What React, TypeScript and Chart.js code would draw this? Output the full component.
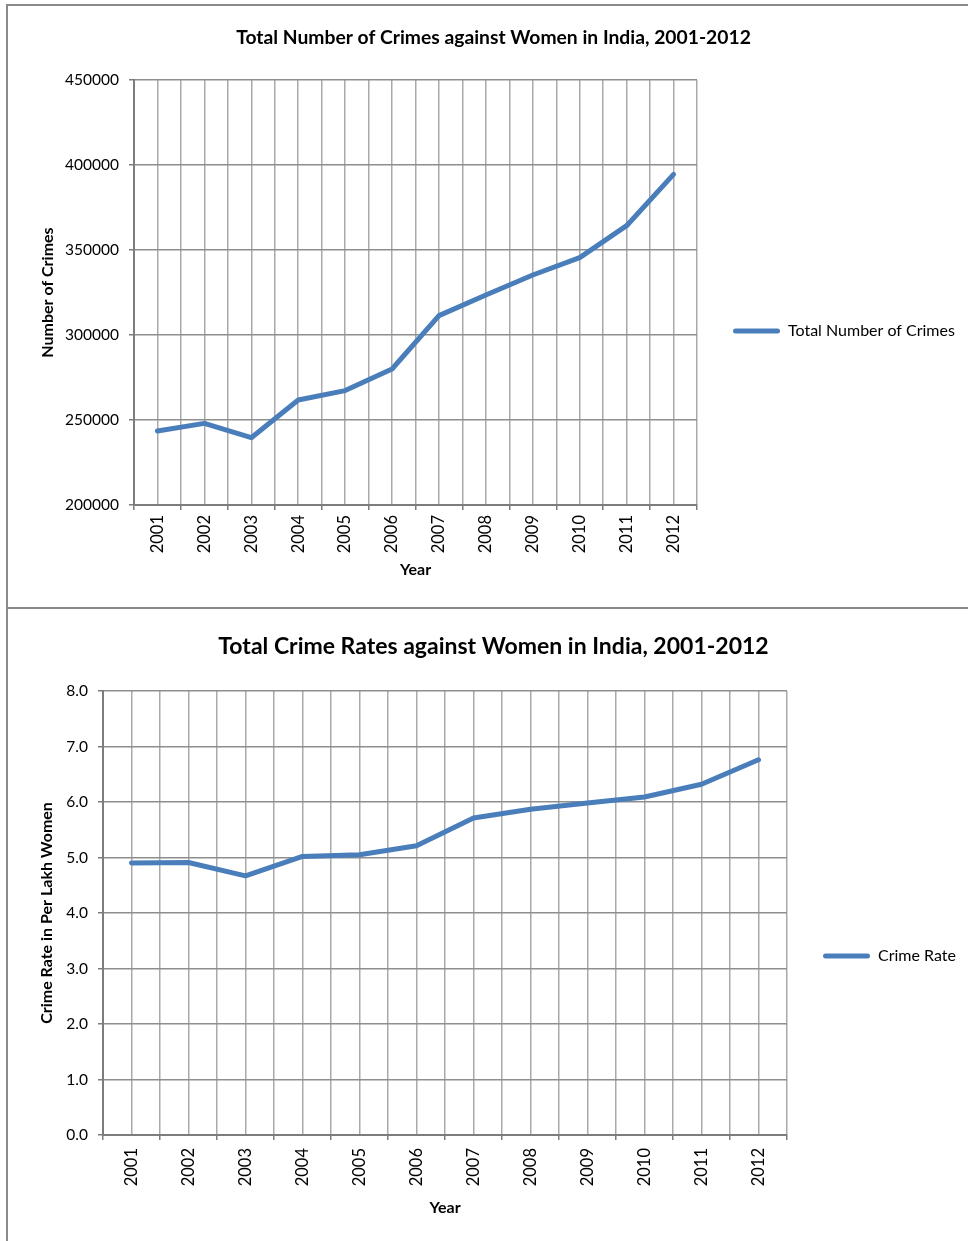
import React, { useEffect, useRef } from "react";
import { Chart, registerables } from "chart.js";

Chart.register(...registerables);

// ---------- data ----------
const years = ["2001", "2002", "2003", "2004", "2005", "2006", "2007", "2008", "2009", "2010", "2011", "2012"];
const totalCrimes = [243500, 248000, 239600, 261800, 267300, 280000, 311400, 323500, 335300, 345500, 364300, 394500];
const crimeRates = [4.9, 4.91, 4.67, 5.02, 5.05, 5.21, 5.71, 5.87, 5.98, 6.09, 6.32, 6.76];
const crimeTicks = [200000, 250000, 300000, 350000, 400000, 450000];
const rateTicks = [0, 1, 2, 3, 4, 5, 6, 7, 8];

// ---------- styling / layout ----------
const FONT = "Lato, 'Open Sans', sans-serif";
const LINE = "#4a7ebb";
const Y_LABEL_SIZE = 15.5;
const X_LABEL_SIZE = 16.5;
const LEGEND_SIZE = 16;
const AXIS_TITLE_SIZE = 16;
const LEGEND_BOX_W = 47;
const LEGEND_PAD = 36;
const V_GRID = "#a9a9a9";
const H_GRID = "#8e8e8e";
const AXIS = "#7d7d7d";

type Spec = {
  title: string;
  titleSize: number;
  yTitle: string;
  seriesName: string;
  labels: string[];
  values: number[];
  yTicks: number[];
  decimals: number;
  canvas: { x: number; y: number; w: number; h: number };
  plot: { left: number; right: number; top: number; bottom: number };
  titleCx: number;
  titleCy: number;
  yTitleCx: number;
  xTitleCy: number;
  legendCy: number;
  xTickPad: number;
};

function LineChart({ spec }: { spec: Spec }) {
  const ref = useRef<HTMLCanvasElement>(null);
  useEffect(() => {
    const canvas = ref.current!;
    const ctx = canvas.getContext("2d")!;
    ctx.font = `${LEGEND_SIZE}px ${FONT}`;
    const legendTextW = ctx.measureText(spec.seriesName).width;
    const itemW = LEGEND_BOX_W + LEGEND_SIZE / 2 + legendTextW;
    const cx = spec.canvas.x;
    const cy = spec.canvas.y;
    const plotL = spec.plot.left - cx;
    const plotR = spec.plot.right - cx;
    const plotT = spec.plot.top - cy;
    const plotB = spec.plot.bottom - cy;
    const Rp = plotR + LEGEND_PAD + itemW + 10;
    const padR = spec.canvas.w - Rp;
    const Lp = 2 * (spec.titleCx - cx) - Rp;
    const axLh = AXIS_TITLE_SIZE * 1.2;
    const yTitlePadTop = spec.yTitleCx - cx - Lp - axLh / 2;
    const yAxisW = plotL - Lp;
    const tLh = spec.titleSize * 1.2;
    const titlePadTop = spec.titleCy - cy - tLh / 2;
    const titlePadBottom = plotT - titlePadTop - tLh;
    const xAxisH = spec.xTitleCy - cy + axLh / 2 + 4 - plotB;
    const padB = spec.canvas.h - plotB - xAxisH;
    const legendBottom = spec.canvas.h - padB;
    const legendTitleH = 2 * (spec.legendCy - cy) - legendBottom;

    const chart = new Chart(canvas, {
      type: "line",
      data: {
        labels: spec.labels,
        datasets: [
          {
            label: spec.seriesName,
            data: spec.values,
            borderColor: LINE,
            backgroundColor: LINE,
            borderWidth: 5,
            pointRadius: 0,
            pointHoverRadius: 0,
            tension: 0,
            fill: false,
            borderCapStyle: "round",
            borderJoinStyle: "round",
            xAxisID: "x",
            yAxisID: "y",
          },
        ],
      },
      options: {
        responsive: false,
        animation: false,
        events: [],
        layout: { padding: { left: Lp, right: padR, top: 0, bottom: padB } },
        plugins: {
          tooltip: { enabled: false },
          title: {
            display: true,
            text: spec.title,
            color: "#000",
            font: { family: FONT, size: spec.titleSize, weight: "bold", lineHeight: 1.2 },
            padding: { top: titlePadTop, bottom: titlePadBottom },
          },
          legend: {
            display: true,
            position: "right",
            maxWidth: 600,
            title: {
              display: true,
              text: " ",
              font: { family: FONT, size: 10, lineHeight: 1.2 },
              padding: { top: 0, bottom: Math.max(0, legendTitleH - 12) },
            },
            labels: {
              boxWidth: LEGEND_BOX_W,
              boxHeight: 5,
              padding: LEGEND_PAD,
              color: "#000",
              font: { family: FONT, size: LEGEND_SIZE },
              useBorderRadius: true,
              borderRadius: 2.5,
              generateLabels: (c: any) =>
                (Chart.defaults.plugins.legend.labels.generateLabels as any)(c).map((l: any) => ({
                  ...l,
                  fillStyle: LINE,
                  strokeStyle: LINE,
                  lineWidth: 0,
                  borderRadius: 2.5,
                })),
            },
          },
        },
        scales: {
          x: {
            type: "category",
            offset: true,
            position: "bottom",
            grid: { offset: true, color: V_GRID, lineWidth: 1.5, tickLength: 5, tickColor: AXIS },
            border: { display: true, color: AXIS, width: 2 },
            ticks: {
              autoSkip: false,
              minRotation: 90,
              maxRotation: 90,
              padding: spec.xTickPad,
              color: "#000",
              font: { family: FONT, size: X_LABEL_SIZE },
            },
            title: {
              display: true,
              text: "Year",
              color: "#000",
              font: { family: FONT, size: AXIS_TITLE_SIZE, weight: "bold", lineHeight: 1.2 },
              padding: { top: 4, bottom: 0 },
            },
            afterFit: (s: any) => {
              s.height = xAxisH;
            },
          },
          x2: {
            type: "category",
            offset: true,
            position: "bottom",
            grid: { offset: false, color: V_GRID, lineWidth: 1.5, drawTicks: false },
            border: { display: false },
            ticks: { display: false },
          },
          y: {
            type: "linear",
            position: "left",
            min: spec.yTicks[0],
            max: spec.yTicks[spec.yTicks.length - 1],
            afterBuildTicks: (s: any) => {
              s.ticks = spec.yTicks.map((v) => ({ value: v }));
            },
            grid: { color: H_GRID, lineWidth: 1.5, tickLength: 5, tickColor: AXIS },
            border: { display: true, color: AXIS, width: 2 },
            ticks: {
              padding: 10,
              color: "#000",
              font: { family: FONT, size: Y_LABEL_SIZE },
              callback: (v: any) => (spec.decimals ? Number(v).toFixed(spec.decimals) : String(v)),
            },
            title: {
              display: true,
              text: spec.yTitle,
              color: "#000",
              font: { family: FONT, size: AXIS_TITLE_SIZE, weight: "bold", lineHeight: 1.2 },
              padding: { top: yTitlePadTop, bottom: 0 },
            },
            afterFit: (s: any) => {
              s.width = yAxisW;
            },
          },
        },
      } as any,
    });
    return () => chart.destroy();
  }, [spec]);
  return (
    <canvas
      ref={ref}
      width={spec.canvas.w}
      height={spec.canvas.h}
      style={{ position: "absolute", left: spec.canvas.x, top: spec.canvas.y, width: spec.canvas.w, height: spec.canvas.h }}
    />
  );
}

const topSpec: Spec = {
  title: "Total Number of Crimes against Women in India, 2001-2012",
  titleSize: 19.3,
  yTitle: "Number of Crimes",
  seriesName: "Total Number of Crimes",
  labels: years,
  values: totalCrimes,
  yTicks: crimeTicks,
  decimals: 0,
  canvas: { x: 8, y: 6, w: 980, h: 601 },
  plot: { left: 134, right: 697, top: 80, bottom: 505 },
  titleCx: 493.5,
  titleCy: 37.5,
  yTitleCx: 48,
  xTitleCy: 566,
  legendCy: 331,
  xTickPad: 5,
};

const bottomSpec: Spec = {
  title: "Total Crime Rates against Women in India, 2001-2012",
  titleSize: 23,
  yTitle: "Crime Rate in Per Lakh Women",
  seriesName: "Crime Rate",
  labels: years,
  values: crimeRates,
  yTicks: rateTicks,
  decimals: 1,
  canvas: { x: 8, y: 610, w: 980, h: 631 },
  plot: { left: 103, right: 787, top: 691, bottom: 1135 },
  titleCx: 493.5,
  titleCy: 646.5,
  yTitleCx: 47,
  xTitleCy: 1204,
  legendCy: 956,
  xTickPad: 8,
};

export default function App() {
  return (
    <div
      style={{
        position: "absolute",
        left: 0,
        top: 0,
        width: 968,
        height: 1241,
        overflow: "hidden",
        background: "#fff",
      }}
    >
      <div
        style={{
          position: "absolute",
          left: 6,
          top: 4,
          width: 1000,
          height: 605,
          border: "2px solid #8a8a8a",
          boxSizing: "border-box",
        }}
      />
      <div
        style={{
          position: "absolute",
          left: 6,
          top: 607,
          width: 1000,
          height: 700,
          border: "2px solid #8a8a8a",
          boxSizing: "border-box",
        }}
      />
      <LineChart spec={topSpec} />
      <LineChart spec={bottomSpec} />
    </div>
  );
}
